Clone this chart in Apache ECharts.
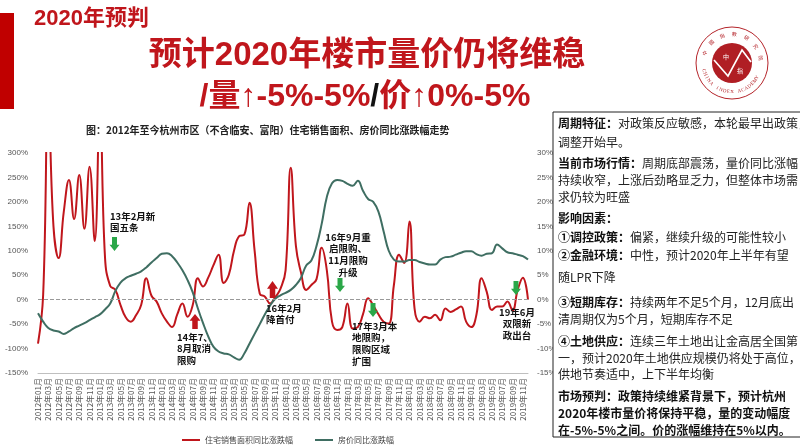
<!DOCTYPE html>
<html>
<head>
<meta charset="utf-8">
<script src="https://cdn.jsdelivr.net/npm/echarts@6/dist/echarts.min.js"></script>
<style>
  html, body { margin: 0; padding: 0; background: #fff; }
  #main { width: 800px; height: 446px; }
</style>
</head>
<body>
<div id="main"></div>
<script>
// data
var months = [];
for (var yr = 2012; yr <= 2019; yr++) {
  for (var mo = 1; mo <= 12; mo++) {
    months.push(yr + "年" + (mo < 10 ? "0" : "") + mo + "月");
  }
}

// 住宅销售面积同比涨跌幅 (%), left axis
var areaYoY = [
  -90, 10, 420, 150, 85, 180, 245, 165, 255, 145, 272, 120,
  400, 85, 28, 20, -11, -36, -45, -32, -11, 44, 8, -4,
  -28, -45, -56, -30, -8, -35, -11, 44, 27, 45, 70, 92,
  34, 51, 100, 130, 133, 198, 100, 12, 6, -8, 5, 22,
  60, 270, 110, 55, 20, 30, 42, 106, 60, -45, -62, -56,
  -8, -59, -56, -30, 3, -12, -30, -45, -49, 30, 92, 75,
  160, -18, -45, -35, -38, -31, -42, -18, -25, -20, -14, -45,
  -56, -31, 44, 16, -21, -14, -14, -4, -22, 20, 45, 0
];

// 房价同比涨跌幅 (%), right axis
var priceYoY = [
  -2.8, -4.5, -5.8, -6.3, -6.5, -7.0, -6.5, -5.8, -5.3, -4.8, -4.2, -3.6,
  -3.0, -2.0, -0.8, 1.8, 3.5, 4.4, 4.9, 5.3, 5.8, 6.6, 7.6, 8.5,
  9.4, 9.5, 8.9, 7.6, 6.0, 4.0, 1.5, -1.8, -4.8, -7.5, -9.6, -10.6,
  -11.0, -11.2, -11.8, -12.3, -11.0, -9.0, -7.0, -5.0, -3.0, -1.2, 0.2, 0.9,
  1.4, 2.0, 3.0, 4.5, 7.0, 8.0, 11.0, 15.5, 21.0, 23.8, 24.5, 24.3,
  23.7, 23.3, 24.3, 22.3, 20.6, 20.0, 18.0, 14.0, 10.0, 8.2, 7.8, 7.8,
  8.1, 8.1, 7.7, 7.4, 7.2, 7.2, 8.2, 8.7, 8.8, 9.2, 9.6, 9.9,
  9.9, 9.3, 9.0, 9.4, 9.5, 11.3, 10.5, 9.7, 9.5, 9.2, 8.9, 8.2
];

var leftRange = [-150, 300, 50];
var rightRange = [-15, 30, 5];

var seriesNames = ["住宅销售面积同比涨跌幅", "房价同比涨跌幅"];

var FONT = '"Noto Sans CJK SC", "Noto Sans", sans-serif';
var LATIN = '"Liberation Sans", "Noto Sans CJK SC", sans-serif';
var RED = "#C0161C";
var GREEN = "#3F6E62";
var ARROW_GREEN = "#2AA748";

// annotations (policy events)
var notes = [
  { lines: ["13年2月新", "国五条"], x: 110, y: 216, align: "left" },
  { lines: ["14年7、", "8月取消", "限购"], x: 177, y: 337, align: "left" },
  { lines: ["16年2月", "降首付"], x: 266, y: 308, align: "left" },
  { lines: ["16年9月重", "启限购、", "11月限购", "升级"], x: 348, y: 237, align: "center" },
  { lines: ["17年3月本", "地限购，", "限购区域", "扩围"], x: 352, y: 326, align: "left" },
  { lines: ["19年6月", "双限新", "政出台"], x: 517, y: 312, align: "center" }
];
var arrows = [
  { x: 114.5, top: 237, h: 14, w: 10, dir: "down", color: ARROW_GREEN },
  { x: 340, top: 278, h: 14, w: 10, dir: "down", color: ARROW_GREEN },
  { x: 373, top: 303, h: 14, w: 10, dir: "down", color: ARROW_GREEN },
  { x: 516, top: 281, h: 14, w: 10, dir: "down", color: ARROW_GREEN },
  { x: 195, top: 314, h: 15, w: 11, dir: "up", color: RED },
  { x: 272.5, top: 281, h: 17, w: 11, dir: "up", color: RED }
];

// side text box
var boxLines = [
  [123, "{b|周期特征：}{n|对政策反应敏感，本轮最早出政策，}"],
  [142, "{n|调整开始早。}"],
  [163, "{b|当前市场行情：}{n|周期底部震荡，量价同比涨幅}"],
  [180, "{n|持续收窄，上涨后劲略显乏力，但整体市场需}"],
  [197, "{n|求仍较为旺盛}"],
  [218, "{b|影响因素：}"],
  [237, "{b|①调控政策：}{n|偏紧，继续升级的可能性较小}"],
  [255, "{b|②金融环境：}{n|中性，预计2020年上半年有望}"],
  [277, "{n|随LPR下降}"],
  [302, "{b|③短期库存：}{n|持续两年不足5个月，12月底出}"],
  [319, "{n|清周期仅为5个月，短期库存不足}"],
  [341, "{b|④土地供应：}{n|连续三年土地出让金高居全国第}"],
  [358, "{n|一，预计2020年土地供应规模仍将处于高位，}"],
  [374, "{n|供地节奏适中，上下半年均衡}"],
  [396, "{b|市场预判：政策持续维紧背景下，预计杭州}"],
  [413, "{b|2020年楼市量价将保持平稳，量的变动幅度}"],
  [430, "{b|在-5%-5%之间。价的涨幅维持在5%以内。}"]
];

var sealTop = "中國指數研究院";
var sealBottom = "CHINA INDEX ACADEMY";

void (function() {
  var chart = echarts.init(document.getElementById("main"));
  var g = [];

  // header
  g.push({ type: "rect", shape: { x: 0, y: 13, width: 14, height: 96 }, style: { fill: "#C00000" } });
  g.push({ type: "text", x: 34, y: 19, style: { text: "2020年预判", font: "bold 22px " + LATIN, fill: RED, verticalAlign: "middle" } });
  g.push({ type: "text", x: 367, y: 56, style: { text: "预计2020年楼市量价仍将维稳", font: "bold 33px " + LATIN, fill: RED, align: "center", verticalAlign: "middle" } });
  g.push({
    type: "text", x: 365, y: 97,
    style: {
      text: "{r|/量↑-5%-5%}{k|/}{r|价↑0%-5%}",
      align: "center", verticalAlign: "middle",
      rich: {
        r: { font: "bold 32px " + LATIN, fill: RED },
        k: { font: "bold 32px " + LATIN, fill: "#111" }
      }
    }
  });

  // seal logo
  var cx = 732, cy = 63;
  g.push({ type: "circle", shape: { cx: cx, cy: cy, r: 36 }, style: { fill: "#fff", stroke: "#B5252B", lineWidth: 1 } });
  g.push({ type: "circle", shape: { cx: cx, cy: cy, r: 20 }, style: { fill: "#B01E24" } });
  g.push({ type: "polyline", shape: { points: [[714, 60], [728, 76], [742, 50], [751, 62]] }, style: { stroke: "#fff", lineWidth: 1.6 } });
  g.push({ type: "text", x: 726, y: 57, style: { text: "中", font: "6px " + FONT, fill: "#fff", align: "center", verticalAlign: "middle" } });
  g.push({ type: "text", x: 740, y: 71, style: { text: "指", font: "6px " + FONT, fill: "#fff", align: "center", verticalAlign: "middle" } });
  for (var i = 0; i < sealTop.length; i++) {
    var th = (200 + i * 25) * Math.PI / 180;
    g.push({
      type: "text", x: cx + 29 * Math.cos(th), y: cy + 29 * Math.sin(th),
      rotation: -(th + Math.PI / 2),
      style: { text: sealTop[i], font: "5px " + FONT, fill: "#B5252B", align: "center", verticalAlign: "middle" }
    });
  }
  for (var j = 0; j < sealBottom.length; j++) {
    var tb = (165 - j * 7.5) * Math.PI / 180;
    g.push({
      type: "text", x: cx + 29 * Math.cos(tb), y: cy + 29 * Math.sin(tb),
      rotation: Math.PI / 2 - tb,
      style: { text: sealBottom[j], font: "5px serif", fill: "#B5252B", align: "center", verticalAlign: "middle" }
    });
  }

  // chart caption
  g.push({ type: "text", x: 86, y: 130, style: { text: "图：2012年至今杭州市区（不含临安、富阳）住宅销售面积、房价同比涨跌幅走势", font: "bold 10px " + FONT, fill: "#222", verticalAlign: "middle" } });

  // event notes
  notes.forEach(function(n) {
    n.lines.forEach(function(t, k) {
      g.push({ type: "text", x: n.x, y: n.y + k * 11.8, z: 20, style: { text: t, font: "bold 9.5px " + FONT, fill: "#111", align: n.align, verticalAlign: "middle" } });
    });
  });
  arrows.forEach(function(a) {
    var hw = a.w / 2, sw = a.w / 4, head = a.h * 0.45, pts;
    if (a.dir === "down") {
      pts = [[a.x - sw, a.top], [a.x + sw, a.top], [a.x + sw, a.top + a.h - head], [a.x + hw, a.top + a.h - head],
             [a.x, a.top + a.h], [a.x - hw, a.top + a.h - head], [a.x - sw, a.top + a.h - head]];
    } else {
      var b = a.top + a.h;
      pts = [[a.x - sw, b], [a.x + sw, b], [a.x + sw, a.top + head], [a.x + hw, a.top + head],
             [a.x, a.top], [a.x - hw, a.top + head], [a.x - sw, a.top + head]];
    }
    g.push({ type: "polygon", z: 20, shape: { points: pts }, style: { fill: a.color } });
  });

  // side text box
  g.push({ type: "rect", z: 30, shape: { x: 553, y: 112, width: 260, height: 325 }, style: { fill: "#fff", stroke: "#222", lineWidth: 1 } });
  boxLines.forEach(function(l) {
    g.push({
      type: "text", z: 31, x: 558, y: l[0],
      style: {
        text: l[1], verticalAlign: "middle",
        rich: {
          b: { font: "bold 12px " + FONT, fill: "#111" },
          n: { font: "12px " + FONT, fill: "#222" }
        }
      }
    });
  });

  var option = {
    animation: false,
    backgroundColor: "#fff",
    textStyle: { fontFamily: FONT },
    grid: { left: 38, right: 272, top: 153, bottom: 73 },
    legend: {
      data: [
        { name: seriesNames[0], icon: "rect" },
        { name: seriesNames[1], icon: "rect" }
      ],
      left: 177, top: 431,
      itemWidth: 18, itemHeight: 2, itemGap: 22,
      textStyle: { fontSize: 8, color: "#444", fontFamily: FONT }
    },
    xAxis: {
      type: "category",
      data: months,
      boundaryGap: false,
      axisLine: { onZero: false, lineStyle: { color: "#BFBFBF" } },
      axisTick: { show: false },
      axisLabel: { interval: 1, rotate: 90, fontSize: 8, color: "#555", margin: 5, fontFamily: FONT }
    },
    yAxis: [
      {
        type: "value", min: leftRange[0], max: leftRange[1], interval: leftRange[2],
        splitLine: { show: false },
        axisLine: { show: false }, axisTick: { show: false },
        axisLabel: { formatter: "{value}%", fontSize: 8, color: "#555", margin: 10, fontFamily: "Liberation Sans, sans-serif" }
      },
      {
        type: "value", min: rightRange[0], max: rightRange[1], interval: rightRange[2],
        splitLine: { show: false },
        axisLine: { show: false }, axisTick: { show: false },
        axisLabel: { formatter: "{value}%", fontSize: 8, color: "#555", margin: 9, fontFamily: "Liberation Sans, sans-serif" }
      }
    ],
    series: [
      {
        name: seriesNames[0],
        type: "line",
        yAxisIndex: 0,
        data: areaYoY,
        smooth: 0.45,
        symbol: "none",
        clip: true,
        lineStyle: { color: RED, width: 2 },
        itemStyle: { color: RED },
        markLine: {
          silent: true, symbol: "none",
          label: { show: false },
          lineStyle: { type: "dashed", color: "#999", width: 1 },
          data: [{ yAxis: 0 }]
        }
      },
      {
        name: seriesNames[1],
        type: "line",
        yAxisIndex: 1,
        data: priceYoY,
        smooth: 0.45,
        symbol: "none",
        lineStyle: { color: GREEN, width: 2 },
        itemStyle: { color: GREEN }
      }
    ],
    graphic: g
  };

  chart.setOption(option);
})();
</script>
</body>
</html>
